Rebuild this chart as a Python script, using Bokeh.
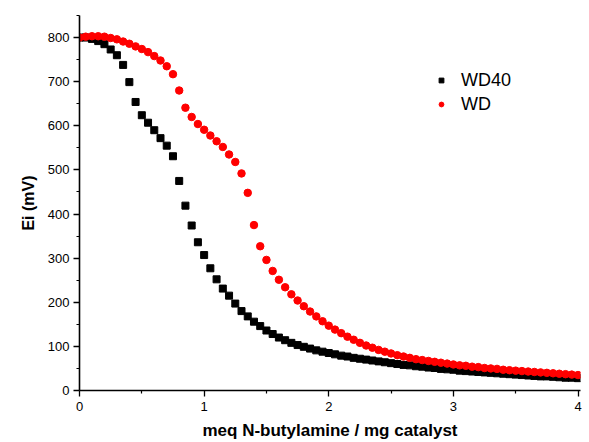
from bokeh.plotting import figure
from bokeh.models import FixedTicker, Range1d, Legend, LegendItem, ColumnDataSource
from bokeh.embed import file_html
from bokeh.resources import INLINE

x_vals = [0.00, 0.05, 0.10, 0.15, 0.20, 0.25, 0.30, 0.35, 0.40, 0.45,
          0.50, 0.55, 0.60, 0.65, 0.70, 0.75, 0.80, 0.85, 0.90, 0.95,
          1.00, 1.05, 1.10, 1.15, 1.20, 1.25, 1.30, 1.35, 1.40, 1.45,
          1.50, 1.55, 1.60, 1.65, 1.70, 1.75, 1.80, 1.85, 1.90, 1.95,
          2.00, 2.05, 2.10, 2.15, 2.20, 2.25, 2.30, 2.35, 2.40, 2.45,
          2.50, 2.55, 2.60, 2.65, 2.70, 2.75, 2.80, 2.85, 2.90, 2.95,
          3.00, 3.05, 3.10, 3.15, 3.20, 3.25, 3.30, 3.35, 3.40, 3.45,
          3.50, 3.55, 3.60, 3.65, 3.70, 3.75, 3.80, 3.85, 3.90, 3.95,
          4.00]

wd40 = [800, 800, 797, 792, 785, 773, 760, 738, 699, 654,
        624, 607, 590, 572, 555, 531, 475, 419, 374, 336,
        307, 277, 252, 231, 215, 197, 180, 168, 156, 146,
        136, 128, 120, 114, 108, 103, 99, 95, 91, 88,
        85, 82, 79, 77, 74, 72, 70, 68, 66, 64,
        62, 60, 58, 57, 55, 54, 52, 51, 49, 48,
        47, 45, 44, 43, 42, 41, 40, 39, 38, 37,
        36, 35, 34, 33, 32, 32, 31, 30, 29, 29,
        28]

wd = [800, 802, 803, 803, 802, 799, 796, 791, 786, 780,
      774, 767, 758, 748, 735, 717, 680, 641, 620, 604,
      591, 578, 565, 552, 535, 518, 492, 448, 375, 327,
      296, 271, 251, 234, 218, 204, 191, 179, 168, 157,
      147, 138, 130, 122, 115, 108, 102, 97, 92, 88,
      84, 80, 77, 74, 71, 69, 67, 65, 63, 61,
      59, 57, 56, 54, 53, 51, 50, 49, 47, 46,
      45, 44, 43, 42, 41, 40, 39, 38, 37, 36,
      35]

x_major = [0, 1, 2, 3, 4]
x_minor = [0.5, 1.5, 2.5, 3.5]
y_major = [0, 100, 200, 300, 400, 500, 600, 700, 800]
y_minor = [50, 150, 250, 350, 450, 550, 650, 750, 850]

FONT = "Liberation Sans"

p = figure(width=587, height=442, output_backend="svg", toolbar_location=None,
           x_range=Range1d(0, 4.02), y_range=Range1d(0, 850),
           min_border_left=79, min_border_right=7, min_border_top=15, min_border_bottom=52)
p.outline_line_color = None
p.xgrid.visible = False
p.ygrid.visible = False
p.background_fill_color = "white"
p.border_fill_color = "white"

src40 = ColumnDataSource(dict(x=x_vals, y=wd40))
srcwd = ColumnDataSource(dict(x=x_vals, y=wd))
r40 = p.scatter("x", "y", source=src40, marker="square", size=7,
                fill_color="black", line_color="black")
rwd = p.scatter("x", "y", source=srcwd, marker="circle", size=7.5,
                fill_color="#ff0000", line_color="#ff0000")

for ax in (p.xaxis[0], p.yaxis[0]):
    ax.axis_line_width = 1.6
    ax.axis_line_color = "black"
    ax.major_tick_line_color = "black"
    ax.minor_tick_line_color = "black"
    ax.major_tick_line_width = 1.3
    ax.minor_tick_line_width = 1.2
    ax.major_tick_in = 0
    ax.major_tick_out = 6
    ax.minor_tick_in = 0
    ax.minor_tick_out = 3
    ax.major_label_text_font = FONT
    ax.major_label_text_font_size = "13px"
    ax.major_label_text_color = "black"
    ax.axis_label_text_font = FONT
    ax.axis_label_text_color = "black"
    ax.axis_label_text_font_style = "bold"

p.xaxis[0].ticker = FixedTicker(ticks=x_major, minor_ticks=x_minor)
p.yaxis[0].ticker = FixedTicker(ticks=y_major, minor_ticks=y_minor)
p.xaxis[0].axis_label = "meq N-butylamine / mg catalyst"
p.xaxis[0].axis_label_text_font_size = "17px"
p.xaxis[0].axis_label_standoff = 7
p.xaxis[0].major_label_standoff = 5
p.yaxis[0].axis_label = "Ei (mV)"
p.yaxis[0].axis_label_text_font_size = "16px"
p.yaxis[0].axis_label_standoff = 8
p.yaxis[0].major_label_standoff = 4

legend = Legend(items=[LegendItem(label="WD40", renderers=[r40]),
                       LegendItem(label="WD", renderers=[rwd])],
                location=(356, 274), padding=0, margin=0, spacing=0,
                glyph_width=12, glyph_height=24, label_height=24,
                label_standoff=14, label_text_font=FONT,
                label_text_font_size="18px", label_text_color="black",
                background_fill_alpha=0, border_line_alpha=0)
p.add_layout(legend)

open("out.html", "w").write(file_html(p, INLINE))
